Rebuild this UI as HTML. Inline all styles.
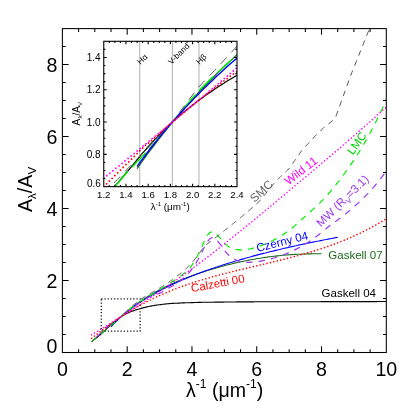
<!DOCTYPE html>
<html><head><meta charset="utf-8"><title>Extinction curves</title>
<style>html,body{margin:0;padding:0;background:#fff}svg{display:block;will-change:transform}text{font-family:"Liberation Sans",sans-serif;fill:#000}</style></head>
<body>
<svg width="415" height="415" viewBox="0 0 415 415">
<rect width="415" height="415" fill="#fff"/>
<clipPath id="cm"><rect x="62.4" y="28.6" width="323.9" height="323.9"/></clipPath>
<g clip-path="url(#cm)" fill="none" stroke-linejoin="round">
<path d="M91.6 341.6L92.5 340.8L93.5 340.1L94.5 339.3L95.5 338.5L96.5 337.8L97.5 337.0L98.5 336.2L99.4 335.3L100.4 334.5L101.4 333.7L102.4 332.8L103.4 331.9L104.4 331.0L105.4 330.0L106.3 329.1L107.3 328.1L108.3 327.2L109.3 326.3L110.3 325.4L111.3 324.5L112.3 323.7L113.2 322.8L114.2 322.0L115.2 321.1L116.2 320.3L117.2 319.5L118.2 318.7L119.2 318.0L120.1 317.3L121.1 316.6L122.1 316.0L123.1 315.4L124.1 314.9L125.1 314.3L126.1 313.8L127.0 313.3L128.0 312.9L129.0 312.4L130.0 312.0L131.0 311.6L132.0 311.2L133.0 310.9L133.9 310.5L134.9 310.2L135.9 309.9L136.9 309.6L137.9 309.2L138.9 309.0L139.9 308.7L140.8 308.4L141.8 308.1L142.8 307.9L143.8 307.6L144.8 307.4L145.8 307.1L146.8 306.9L147.7 306.7L148.7 306.5L149.7 306.3L150.7 306.1L151.7 305.9L152.7 305.7L153.7 305.6L154.6 305.4L155.6 305.3L156.6 305.1L157.6 305.0L158.6 304.8L159.6 304.7L160.6 304.6L161.5 304.5L162.5 304.3L163.5 304.2L164.5 304.1L165.5 304.0L166.5 303.9L167.5 303.8L168.4 303.7L169.4 303.6L170.4 303.5L171.4 303.5L172.4 303.4L173.4 303.4L174.4 303.3L175.3 303.3L176.3 303.2L177.3 303.2L178.3 303.1L179.3 303.1L180.3 303.0L181.3 303.0L182.2 302.9L183.2 302.9L184.2 302.9L185.2 302.8L186.2 302.8L187.2 302.7L188.2 302.7L189.1 302.7L190.1 302.7L191.1 302.6L192.1 302.6L193.1 302.6L194.1 302.5L195.1 302.5L196.0 302.5L197.0 302.5L198.0 302.4L199.0 302.4L200.0 302.4L201.0 302.4L202.0 302.3L202.9 302.3L203.9 302.3L204.9 302.3L205.9 302.3L206.9 302.3L207.9 302.2L208.9 302.2L209.8 302.2L210.8 302.2L211.8 302.2L212.8 302.2L213.8 302.2L214.8 302.1L215.8 302.1L216.7 302.1L217.7 302.1L218.7 302.1L219.7 302.1L220.7 302.1L221.7 302.1L222.7 302.1L223.6 302.1L224.6 302.0L225.6 302.0L226.6 302.0L227.6 302.0L228.6 302.0L229.6 302.0L230.5 302.0L231.5 302.0L232.5 302.0L233.5 302.0L234.5 302.0L235.5 302.0L236.5 301.9L237.4 301.9L238.4 301.9L239.4 301.9L240.4 301.9L241.4 301.9L242.4 301.9L243.4 301.9L244.3 301.9L245.3 301.9L246.3 301.9L247.3 301.9L248.3 301.9L249.3 301.9L250.3 301.9L251.2 301.9L252.2 301.9L253.2 301.9L254.2 301.8L255.2 301.8L256.2 301.8L257.2 301.8L258.1 301.8L259.1 301.8L260.1 301.8L261.1 301.8L262.1 301.8L263.1 301.8L264.1 301.8L265.0 301.8L266.0 301.8L267.0 301.8L268.0 301.8L269.0 301.8L270.0 301.8L271.0 301.8L271.9 301.8L272.9 301.8L273.9 301.8L274.9 301.8L275.9 301.8L276.9 301.8L277.9 301.8L278.8 301.8L279.8 301.8L280.8 301.7L281.8 301.7L282.8 301.7L283.8 301.7L284.8 301.7L285.8 301.7L286.7 301.7L287.7 301.7L288.7 301.7L289.7 301.7L290.7 301.7L291.7 301.7L292.7 301.7L293.6 301.7L294.6 301.7L295.6 301.7L296.6 301.7L297.6 301.7L298.6 301.7L299.6 301.7L300.5 301.7L301.5 301.7L302.5 301.7L303.5 301.7L304.5 301.7L305.5 301.7L306.5 301.7L307.4 301.7L308.4 301.7L309.4 301.7L310.4 301.7L311.4 301.7L312.4 301.7L313.4 301.7L314.3 301.7L315.3 301.7L316.3 301.7L317.3 301.7L318.3 301.7L319.3 301.7L320.3 301.7L321.2 301.6L322.2 301.6L323.2 301.6L324.2 301.6L325.2 301.6L326.2 301.6L327.2 301.6L328.1 301.6L329.1 301.6L330.1 301.6L331.1 301.6L332.1 301.6L333.1 301.6L334.1 301.6L335.0 301.6L336.0 301.6L337.0 301.6L338.0 301.6L339.0 301.6L340.0 301.6L341.0 301.6L341.9 301.6L342.9 301.6L343.9 301.6L344.9 301.6L345.9 301.6L346.9 301.6L347.9 301.6L348.8 301.6L349.8 301.6L350.8 301.6L351.8 301.6L352.8 301.6L353.8 301.6L354.8 301.6L355.7 301.6L356.7 301.6L357.7 301.6L358.7 301.6L359.7 301.6L360.7 301.6L361.7 301.6L362.6 301.6L363.6 301.6L364.6 301.6L365.6 301.6L366.6 301.6L367.6 301.6L368.6 301.6L369.5 301.6L370.5 301.6L371.5 301.6L372.5 301.6L373.5 301.6L374.5 301.6L375.5 301.6L376.4 301.6L377.4 301.5L378.4 301.5L379.4 301.5L380.4 301.5L381.4 301.5L382.4 301.5L383.3 301.5L384.3 301.5L385.3 301.5L386.3 301.5" stroke="#000" stroke-width="1.1"/>
<path d="M111.0 326.9L112.8 325.0L114.5 323.1L116.3 321.3L118.1 319.6L119.8 317.9L121.6 316.3L123.4 314.7L125.1 313.1L126.9 311.6L128.7 310.1L130.4 308.7L132.2 307.3L134.0 306.0L135.8 304.6L137.5 303.3L139.3 302.1L141.1 300.9L142.8 299.7L144.6 298.5L146.4 297.4L148.1 296.3L149.9 295.2L151.7 294.2L153.4 293.2L155.2 292.2L157.0 291.2L158.8 290.2L160.5 289.3L162.3 288.4L164.1 287.5L165.8 286.7L167.6 285.8L169.4 285.0L171.1 284.2L172.9 283.4L174.7 282.6L176.4 281.8L178.2 281.1L180.0 280.3L181.8 279.6L183.5 278.9L185.3 278.2L187.1 277.5L188.8 276.9L190.6 276.2L192.4 275.6L194.1 274.9L195.9 274.3L197.7 273.7L199.4 273.1L201.2 272.5L203.0 271.9L204.8 271.4L206.5 270.8L208.3 270.3L210.1 269.7L211.8 269.2L213.6 268.7L215.4 268.2L217.1 267.7L218.9 267.2L220.7 266.7L222.4 266.2L224.2 265.7L226.0 265.3L227.8 264.8L229.5 264.4L231.3 264.0L233.1 263.5L234.8 263.1L236.6 262.7L238.4 262.3L240.1 261.9L241.9 261.6L243.7 261.2L245.4 260.8L247.2 260.5L249.0 260.1L250.8 259.8L252.5 259.5L254.3 259.2L256.1 258.8L257.8 258.5L259.6 258.3L261.4 258.0L263.1 257.7L264.9 257.4L266.7 257.2L268.4 256.9L270.2 256.7L272.0 256.5L273.8 256.3L275.5 256.1L277.3 255.9L279.1 255.7L280.8 255.5L282.6 255.3L284.4 255.2L286.1 255.0L287.9 254.9L289.7 254.8L291.4 254.6L293.2 254.5L295.0 254.4L296.8 254.3L298.5 254.2L300.3 254.2L302.1 254.1L303.8 254.0L305.6 254.0L307.4 253.9L309.1 253.9L310.9 253.9L312.7 253.8L314.4 253.8L316.2 253.8L318.0 253.8L319.8 253.8L321.5 253.8" stroke="#1a6b1a" stroke-width="1.1"/>
<path d="M111.0 326.4L112.9 324.4L114.8 322.5L116.7 320.7L118.6 318.9L120.5 317.2L122.4 315.5L124.3 313.9L126.2 312.4L128.1 310.9L130.0 309.4L131.9 308.0L133.8 306.6L135.8 305.2L137.7 303.9L139.6 302.6L141.5 301.4L143.4 300.1L145.3 299.0L147.2 297.8L149.1 296.6L151.0 295.5L152.9 294.4L154.8 293.4L156.7 292.3L158.6 291.3L160.5 290.3L162.4 289.3L164.3 288.3L166.2 287.4L168.1 286.4L170.0 285.5L172.0 284.6L173.9 283.7L175.8 282.9L177.7 282.0L179.6 281.2L181.5 280.3L183.4 279.5L185.3 278.7L187.2 277.9L189.1 277.1L191.0 276.4L192.9 275.6L194.8 274.9L196.7 274.1L198.6 273.4L200.5 272.7L202.4 272.0L204.3 271.3L206.2 270.6L208.2 269.9L210.1 269.3L212.0 268.6L213.9 268.0L215.8 267.3L217.7 266.7L219.6 266.1L221.5 265.5L223.4 264.8L225.3 264.2L227.2 263.6L229.1 263.0L231.0 262.5L232.9 261.9L234.8 261.3L236.7 260.7L238.6 260.2L240.5 259.6L242.5 259.1L244.4 258.6L246.3 258.0L248.2 257.5L250.1 257.0L252.0 256.4L253.9 255.9L255.8 255.4L257.7 254.9L259.6 254.4L261.5 253.9L263.4 253.4L265.3 253.0L267.2 252.5L269.1 252.0L271.0 251.5L272.9 251.1L274.8 250.6L276.7 250.1L278.7 249.7L280.6 249.2L282.5 248.8L284.4 248.3L286.3 247.9L288.2 247.5L290.1 247.0L292.0 246.6L293.9 246.2L295.8 245.8L297.7 245.3L299.6 244.9L301.5 244.5L303.4 244.1L305.3 243.7L307.2 243.3L309.1 242.9L311.0 242.5L312.9 242.1L314.9 241.7L316.8 241.3L318.7 241.0L320.6 240.6L322.5 240.2L324.4 239.8L326.3 239.5L328.2 239.1L330.1 238.7L332.0 238.4L333.9 238.0L335.8 237.6L337.7 237.3" stroke="#0000ff" stroke-width="1.1"/>
<path d="M91.6 340.2L92.5 339.6L93.5 338.9L94.5 338.2L95.5 337.4L96.5 336.7L97.5 336.0L98.5 335.2L99.4 334.4L100.4 333.5L101.4 332.5L102.4 331.5L103.4 330.5L104.4 329.5L105.4 328.5L106.3 327.6L107.3 326.7L108.3 325.8L109.3 325.0L110.3 324.2L111.3 323.4L112.3 322.7L113.2 322.0L114.2 321.3L115.2 320.7L116.2 320.0L117.2 319.3L118.2 318.7L119.2 318.0L120.1 317.4L121.1 316.7L122.1 316.0L123.1 315.3L124.1 314.5L125.1 313.8L126.1 313.0L127.0 312.2L128.0 311.4L129.0 310.6L130.0 309.8L131.0 309.0L132.0 308.1L133.0 307.3L133.9 306.5L134.9 305.7L135.9 304.9L136.9 304.1L137.9 303.4L138.9 302.7L139.9 302.0L140.8 301.3L141.8 300.7L142.8 300.1L143.8 299.6L144.8 299.0L145.8 298.6L146.8 298.1L147.7 297.7L148.7 297.3L149.7 297.0L150.7 296.6L151.7 296.3L152.7 296.0L153.7 295.6L154.6 295.3L155.6 295.0L156.6 294.6L157.6 294.2L158.6 293.8L159.6 293.4L160.6 292.9L161.5 292.4L162.5 291.8L163.5 291.2L164.5 290.6L165.5 290.0L166.5 289.3L167.5 288.7L168.4 288.1L169.4 287.6L170.4 287.0L171.4 286.5L172.4 286.0L173.4 285.4L174.4 284.8L175.3 284.2L176.3 283.6L177.3 282.9L178.3 282.3L179.3 281.6L180.3 280.8L181.3 280.1L182.2 279.3L183.2 278.5L184.2 277.6L185.2 276.7L186.2 275.8L187.2 274.8L188.2 273.8L189.1 272.7L190.1 271.5L191.1 270.3L192.1 269.0L193.1 267.6L194.1 266.2L195.1 264.7L196.0 263.1L197.0 261.4L198.0 259.7L199.0 257.8L200.0 256.0L201.0 254.0L202.0 252.1L202.9 250.1L203.9 248.1L204.9 246.2L205.9 244.4L206.9 242.7L207.9 241.2L208.9 239.9L209.8 238.9L210.8 238.1L211.8 237.7L212.8 237.6L213.8 237.8L214.8 238.3L215.8 239.0L216.7 240.0L217.7 241.1L218.7 242.4L219.7 243.7L220.7 245.1L221.7 246.5L222.7 247.9L223.6 249.3L224.6 250.6L225.6 251.8L226.6 252.9L227.6 254.0L228.6 255.0L229.6 255.9L230.5 256.7L231.5 257.5L232.5 258.1L233.5 258.8L234.5 259.3L235.5 259.8L236.5 260.2L237.4 260.6L238.4 260.9L239.4 261.2L240.4 261.4L241.4 261.7L242.4 261.8L243.4 262.0L244.3 262.1L245.3 262.2L246.3 262.2L247.3 262.3L248.3 262.3L249.3 262.3L250.3 262.3L251.2 262.2L252.2 262.2L253.2 262.1L254.2 262.0L255.2 261.9L256.2 261.8L257.2 261.7L258.1 261.6L259.1 261.4L260.1 261.2L261.1 261.1L262.1 260.9L263.1 260.7L264.1 260.5L265.0 260.3L266.0 260.1L267.0 259.9L268.0 259.6L269.0 259.4L270.0 259.1L271.0 258.9L271.9 258.6L272.9 258.3L273.9 258.0L274.9 257.7L275.9 257.4L276.9 257.1L277.9 256.8L278.8 256.5L279.8 256.1L280.8 255.8L281.8 255.4L282.8 255.0L283.8 254.7L284.8 254.3L285.8 253.9L286.7 253.5L287.7 253.1L288.7 252.6L289.7 252.2L290.7 251.8L291.7 251.3L292.7 250.9L293.6 250.4L294.6 249.9L295.6 249.4L296.6 248.9L297.6 248.4L298.6 247.9L299.6 247.4L300.5 246.8L301.5 246.3L302.5 245.7L303.5 245.1L304.5 244.5L305.5 243.9L306.5 243.3L307.4 242.7L308.4 242.1L309.4 241.4L310.4 240.8L311.4 240.1L312.4 239.4L313.4 238.7L314.3 238.0L315.3 237.3L316.3 236.5L317.3 235.8L318.3 235.0L319.3 234.2L320.3 233.4L321.2 232.6L322.2 231.8L323.2 231.0L324.2 230.2L325.2 229.4L326.2 228.6L327.2 227.7L328.1 226.9L329.1 226.2L330.1 225.5L331.1 224.8L332.1 224.1L333.1 223.4L334.1 222.7L335.0 221.9L336.0 221.2L337.0 220.5L338.0 219.7L339.0 219.0L340.0 218.2L341.0 217.5L341.9 216.7L342.9 216.0L343.9 215.2L344.9 214.4L345.9 213.6L346.9 212.8L347.9 212.0L348.8 211.2L349.8 210.4L350.8 209.6L351.8 208.7L352.8 207.9L353.8 207.0L354.8 206.1L355.7 205.3L356.7 204.4L357.7 203.5L358.7 202.6L359.7 201.6L360.7 200.7L361.7 199.7L362.6 198.8L363.6 197.8L364.6 196.8L365.6 195.8L366.6 194.8L367.6 193.8L368.6 192.7L369.5 191.7L370.5 190.6L371.5 189.5L372.5 188.4L373.5 187.3L374.5 186.1L375.5 185.0L376.4 183.8L377.4 182.6L378.4 181.4L379.4 180.2L380.4 179.0L381.4 177.7L382.4 176.4L383.3 175.1L384.3 173.8L385.3 172.5L386.3 171.1" stroke="#9a35f0" stroke-width="1.2" stroke-dasharray="6.5 6" stroke-dashoffset="6.5"/>
<path d="M91.6 341.7L92.5 340.9L93.5 340.1L94.5 339.3L95.5 338.5L96.5 337.7L97.5 336.9L98.5 336.1L99.4 335.2L100.4 334.4L101.4 333.6L102.4 332.7L103.4 331.9L104.4 331.0L105.4 330.2L106.3 329.3L107.3 328.4L108.3 327.5L109.3 326.7L110.3 325.9L111.3 325.2L112.3 324.4L113.2 323.6L114.2 322.8L115.2 321.9L116.2 321.0L117.2 320.2L118.2 319.3L119.2 318.4L120.1 317.5L121.1 316.7L122.1 315.8L123.1 314.9L124.1 314.0L125.1 313.0L126.1 312.1L127.0 311.2L128.0 310.4L129.0 309.6L130.0 308.8L131.0 308.0L132.0 307.3L133.0 306.6L133.9 305.9L134.9 305.2L135.9 304.5L136.9 303.8L137.9 303.1L138.9 302.5L139.9 301.8L140.8 301.1L141.8 300.5L142.8 299.9L143.8 299.2L144.8 298.6L145.8 298.0L146.8 297.4L147.7 296.8L148.7 296.2L149.7 295.6L150.7 295.1L151.7 294.5L152.7 293.9L153.7 293.3L154.6 292.7L155.6 292.1L156.6 291.5L157.6 290.9L158.6 290.3L159.6 289.7L160.6 289.1L161.5 288.5L162.5 287.9L163.5 287.3L164.5 286.7L165.5 286.1L166.5 285.5L167.5 284.8L168.4 284.2L169.4 283.6L170.4 283.0L171.4 282.3L172.4 281.6L173.4 281.0L174.4 280.3L175.3 279.6L176.3 279.0L177.3 278.3L178.3 277.6L179.3 277.0L180.3 276.3L181.3 275.6L182.2 274.8L183.2 274.1L184.2 273.3L185.2 272.5L186.2 271.6L187.2 270.7L188.2 269.8L189.1 268.7L190.1 267.6L191.1 266.3L192.1 264.9L193.1 263.4L194.1 261.9L195.1 260.3L196.0 258.5L197.0 256.7L198.0 254.8L199.0 252.9L200.0 250.8L201.0 248.8L202.0 246.7L202.9 244.6L203.9 242.2L204.9 239.7L205.9 237.5L206.9 235.9L207.9 234.6L208.9 233.5L209.8 232.6L210.8 232.1L211.8 231.7L212.8 231.6L213.8 232.0L214.8 232.8L215.8 233.5L216.7 234.4L217.7 235.4L218.7 236.5L219.7 237.6L220.7 238.8L221.7 240.1L222.7 241.2L223.6 242.3L224.6 243.4L225.6 244.3L226.6 245.1L227.6 245.9L228.6 246.6L229.6 247.2L230.5 247.7L231.5 248.0L232.5 248.4L233.5 248.7L234.5 249.0L235.5 249.2L236.5 249.4L237.4 249.5L238.4 249.6L239.4 249.8L240.4 249.9L241.4 249.9L242.4 249.9L243.4 249.9L244.3 249.8L245.3 249.7L246.3 249.6L247.3 249.4L248.3 249.2L249.3 249.0L250.3 248.9L251.2 248.7L252.2 248.4L253.2 248.1L254.2 247.9L255.2 247.5L256.2 247.2L257.2 246.9L258.1 246.6L259.1 246.3L260.1 245.9L261.1 245.6L262.1 245.2L263.1 244.8L264.1 244.4L265.0 244.0L266.0 243.6L267.0 243.2L268.0 242.8L269.0 242.3L270.0 241.9L271.0 241.4L271.9 240.9L272.9 240.5L273.9 239.9L274.9 239.4L275.9 238.9L276.9 238.3L277.9 237.7L278.8 237.2L279.8 236.6L280.8 235.9L281.8 235.3L282.8 234.7L283.8 234.0L284.8 233.3L285.8 232.7L286.7 232.0L287.7 231.3L288.7 230.6L289.7 229.8L290.7 229.1L291.7 228.3L292.7 227.5L293.6 226.7L294.6 225.9L295.6 225.0L296.6 224.1L297.6 223.3L298.6 222.4L299.6 221.5L300.5 220.6L301.5 219.7L302.5 218.8L303.5 217.9L304.5 217.0L305.5 216.1L306.5 215.2L307.4 214.3L308.4 213.4L309.4 212.6L310.4 211.7L311.4 210.8L312.4 209.9L313.4 209.1L314.3 208.2L315.3 207.3L316.3 206.4L317.3 205.5L318.3 204.5L319.3 203.6L320.3 202.6L321.2 201.6L322.2 200.6L323.2 199.6L324.2 198.5L325.2 197.5L326.2 196.4L327.2 195.2L328.1 194.1L329.1 193.0L330.1 191.8L331.1 190.6L332.1 189.4L333.1 188.2L334.1 187.0L335.0 185.8L336.0 184.6L337.0 183.3L338.0 182.1L339.0 180.8L340.0 179.5L341.0 178.2L341.9 176.9L342.9 175.6L343.9 174.3L344.9 173.0L345.9 171.6L346.9 170.2L347.9 168.9L348.8 167.5L349.8 166.1L350.8 164.6L351.8 163.2L352.8 161.7L353.8 160.3L354.8 158.8L355.7 157.3L356.7 155.7L357.7 154.2L358.7 152.6L359.7 151.0L360.7 149.4L361.7 147.8L362.6 146.1L363.6 144.5L364.6 142.8L365.6 141.1L366.6 139.3L367.6 137.6L368.6 135.8L369.5 134.0L370.5 132.2L371.5 130.3L372.5 128.5L373.5 126.6L374.5 124.7L375.5 122.7L376.4 120.8L377.4 118.8L378.4 116.8L379.4 114.8L380.4 112.6L381.4 110.5L382.4 108.3L383.3 106.0L384.3 103.7L385.3 101.5L386.3 99.1" stroke="#00ee00" stroke-width="1.2" stroke-dasharray="6.3 6"/>
<path d="M91.6 341.7L92.5 340.8L93.5 339.9L94.5 339.0L95.5 338.1L96.5 337.2L97.5 336.3L98.5 335.4L99.4 334.5L100.4 333.6L101.4 332.7L102.4 331.8L103.4 330.9L104.4 330.0L105.4 329.2L106.3 328.4L107.3 327.6L108.3 326.9L109.3 326.1L110.3 325.3L111.3 324.5L112.3 323.7L113.2 322.9L114.2 322.1L115.2 321.4L116.2 320.6L117.2 319.8L118.2 319.0L119.2 318.2L120.1 317.4L121.1 316.6L122.1 315.7L123.1 314.6L124.1 313.6L125.1 312.6L126.1 311.6L127.0 310.6L128.0 309.7L129.0 308.7L130.0 307.9L131.0 307.1L132.0 306.3L133.0 305.5L133.9 304.7L134.9 303.9L135.9 303.1L136.9 302.3L137.9 301.5L138.9 300.7L139.9 299.8L140.8 299.2L141.8 298.6L142.8 298.0L143.8 297.4L144.8 296.8L145.8 296.2L146.8 295.7L147.7 295.1L148.7 294.5L149.7 293.9L150.7 293.3L151.7 292.7L152.7 292.1L153.7 291.5L154.6 291.0L155.6 290.4L156.6 289.8L157.6 289.2L158.6 288.6L159.6 288.0L160.6 287.4L161.5 286.9L162.5 286.3L163.5 285.6L164.5 285.0L165.5 284.3L166.5 283.7L167.5 283.0L168.4 282.4L169.4 281.7L170.4 281.1L171.4 280.4L172.4 279.8L173.4 279.1L174.4 278.3L175.3 277.5L176.3 276.7L177.3 275.9L178.3 275.1L179.3 274.3L180.3 273.6L181.3 272.8L182.2 272.0L183.2 271.2L184.2 270.4L185.2 269.6L186.2 268.6L187.2 267.6L188.2 266.5L189.1 265.5L190.1 264.4L191.1 263.4L192.1 262.3L193.1 261.3L194.1 260.1L195.1 258.8L196.0 257.5L197.0 256.2L198.0 254.9L199.0 253.6L200.0 252.3L201.0 251.0L202.0 249.6L202.9 248.3L203.9 246.9L204.9 245.7L205.9 245.0L206.9 244.2L207.9 243.5L208.9 242.7L209.8 242.0L210.8 241.2L211.8 240.5L212.8 239.7L213.8 239.0L214.8 238.2L215.8 237.5L216.7 236.7L217.7 236.0L218.7 235.2L219.7 234.4L220.7 233.6L221.7 232.8L222.7 232.0L223.6 231.2L224.6 230.4L225.6 229.6L226.6 228.8L227.6 228.1L228.6 227.3L229.6 226.5L230.5 225.7L231.5 224.9L232.5 224.1L233.5 223.3L234.5 222.5L235.5 221.7L236.5 221.0L237.4 220.2L238.4 219.4L239.4 218.6L240.4 217.7L241.4 216.9L242.4 216.1L243.4 215.3L244.3 214.4L245.3 213.6L246.3 212.8L247.3 211.9L248.3 211.1L249.3 210.3L250.3 209.4L251.2 208.6L252.2 207.7L253.2 206.9L254.2 206.0L255.2 205.1L256.2 204.2L257.2 203.3L258.1 202.5L259.1 201.6L260.1 200.4L261.1 199.2L262.1 198.0L263.1 196.8L264.1 195.6L265.0 194.4L266.0 193.2L267.0 192.0L268.0 190.8L269.0 189.6L270.0 188.4L271.0 187.2L271.9 186.0L272.9 184.8L273.9 183.6L274.9 182.4L275.9 181.2L276.9 180.1L277.9 179.2L278.8 178.3L279.8 177.4L280.8 176.4L281.8 175.5L282.8 174.6L283.8 173.7L284.8 172.7L285.8 171.8L286.7 170.9L287.7 170.0L288.7 169.0L289.7 167.7L290.7 166.3L291.7 164.9L292.7 163.5L293.6 162.1L294.6 160.7L295.6 159.3L296.6 157.9L297.6 156.5L298.6 155.1L299.6 153.7L300.5 152.2L301.5 150.9L302.5 149.8L303.5 148.7L304.5 147.7L305.5 146.6L306.5 145.5L307.4 144.4L308.4 143.4L309.4 142.3L310.4 141.2L311.4 140.2L312.4 139.1L313.4 138.0L314.3 136.9L315.3 135.9L316.3 134.8L317.3 133.9L318.3 133.0L319.3 132.0L320.3 131.1L321.2 130.2L322.2 129.3L323.2 128.4L324.2 127.4L325.2 126.6L326.2 125.8L327.2 125.0L328.1 124.2L329.1 123.4L330.1 122.6L331.1 121.8L332.1 121.0L333.1 120.2L334.1 119.4L335.0 118.6L336.0 116.1L337.0 113.3L338.0 110.6L339.0 107.9L340.0 105.1L341.0 102.4L341.9 99.6L342.9 96.9L343.9 94.2L344.9 91.4L345.9 88.7L346.9 85.9L347.9 83.2L348.8 80.5L349.8 77.7L350.8 75.2L351.8 72.7L352.8 70.3L353.8 67.8L354.8 65.4L355.7 62.9L356.7 60.4L357.7 58.0L358.7 55.5L359.7 53.0L360.7 50.6L361.7 48.1L362.6 45.6L363.6 43.2L364.6 40.7L365.6 38.2L366.6 35.8L367.6 33.3L368.6 30.9L369.5 28.4L370.5 25.9L371.5 23.3L372.5 20.8L373.5 18.3L374.5 15.7L375.5 13.2L376.4 10.7L377.4 8.2L378.4 5.6L379.4 3.1L380.4 0.6L381.4 -1.9L382.4 -4.5L383.3 -7.0L384.3 -9.5L385.3 -12.1L386.3 -14.6" stroke="#555" stroke-width="1.0" stroke-dasharray="5.8 5"/>
<path d="M91.6 338.3L92.5 337.5L93.5 336.8L94.5 336.0L95.5 335.3L96.5 334.5L97.5 333.8L98.5 333.0L99.4 332.3L100.4 331.5L101.4 330.8L102.4 330.0L103.4 329.3L104.4 328.6L105.4 327.8L106.3 327.1L107.3 326.3L108.3 325.6L109.3 324.8L110.3 324.1L111.3 323.3L112.3 322.6L113.2 321.8L114.2 321.3L115.2 320.6L116.2 319.9L117.2 319.3L118.2 318.6L119.2 317.9L120.1 317.3L121.1 316.6L122.1 316.0L123.1 315.4L124.1 314.7L125.1 314.1L126.1 313.5L127.0 312.9L128.0 312.3L129.0 311.7L130.0 311.1L131.0 310.5L132.0 309.9L133.0 309.3L133.9 308.7L134.9 308.2L135.9 307.6L136.9 307.0L137.9 306.5L138.9 305.9L139.9 305.4L140.8 304.9L141.8 304.3L142.8 303.8L143.8 303.3L144.8 302.8L145.8 302.2L146.8 301.7L147.7 301.2L148.7 300.7L149.7 300.2L150.7 299.8L151.7 299.3L152.7 298.8L153.7 298.3L154.6 297.9L155.6 297.4L156.6 296.9L157.6 296.5L158.6 296.0L159.6 295.6L160.6 295.1L161.5 294.7L162.5 294.3L163.5 293.8L164.5 293.4L165.5 293.0L166.5 292.6L167.5 292.2L168.4 291.7L169.4 291.3L170.4 290.9L171.4 290.5L172.4 290.1L173.4 289.8L174.4 289.4L175.3 289.0L176.3 288.6L177.3 288.2L178.3 287.9L179.3 287.5L180.3 287.1L181.3 286.8L182.2 286.4L183.2 286.1L184.2 285.7L185.2 285.4L186.2 285.0L187.2 284.7L188.2 284.3L189.1 284.0L190.1 283.7L191.1 283.3L192.1 283.0L193.1 282.7L194.1 282.4L195.1 282.0L196.0 281.7L197.0 281.4L198.0 281.1L199.0 280.8L200.0 280.5L201.0 280.2L202.0 279.9L202.9 279.6L203.9 279.3L204.9 279.0L205.9 278.7L206.9 278.4L207.9 278.1L208.9 277.9L209.8 277.6L210.8 277.3L211.8 277.0L212.8 276.7L213.8 276.5L214.8 276.2L215.8 275.9L216.7 275.7L217.7 275.4L218.7 275.1L219.7 274.9L220.7 274.6L221.7 274.3L222.7 274.1L223.6 273.8L224.6 273.6L225.6 273.3L226.6 273.1L227.6 272.8L228.6 272.6L229.6 272.3L230.5 272.1L231.5 271.8L232.5 271.6L233.5 271.3L234.5 271.1L235.5 270.9L236.5 270.6L237.4 270.4L238.4 270.1L239.4 269.9L240.4 269.7L241.4 269.4L242.4 269.2L243.4 269.0L244.3 268.7L245.3 268.5L246.3 268.3L247.3 268.0L248.3 267.8L249.3 267.6L250.3 267.3L251.2 267.1L252.2 266.9L253.2 266.6L254.2 266.4L255.2 266.2L256.2 265.9L257.2 265.7L258.1 265.5L259.1 265.2L260.1 265.0L261.1 264.8L262.1 264.6L263.1 264.3L264.1 264.1L265.0 263.9L266.0 263.6L267.0 263.4L268.0 263.2L269.0 262.9L270.0 262.7L271.0 262.5L271.9 262.2L272.9 262.0L273.9 261.7L274.9 261.5L275.9 261.3L276.9 261.0L277.9 260.8L278.8 260.5L279.8 260.3L280.8 260.1L281.8 259.8L282.8 259.6L283.8 259.3L284.8 259.1L285.8 258.8L286.7 258.6L287.7 258.3L288.7 258.1L289.7 257.8L290.7 257.6L291.7 257.3L292.7 257.0L293.6 256.8L294.6 256.5L295.6 256.3L296.6 256.0L297.6 255.7L298.6 255.5L299.6 255.2L300.5 254.9L301.5 254.6L302.5 254.4L303.5 254.1L304.5 253.8L305.5 253.5L306.5 253.2L307.4 252.9L308.4 252.6L309.4 252.4L310.4 252.1L311.4 251.8L312.4 251.5L313.4 251.2L314.3 250.9L315.3 250.5L316.3 250.2L317.3 249.9L318.3 249.6L319.3 249.3L320.3 249.0L321.2 248.6L322.2 248.3L323.2 248.0L324.2 247.7L325.2 247.3L326.2 247.0L327.2 246.6L328.1 246.3L329.1 246.0L330.1 245.6L331.1 245.2L332.1 244.9L333.1 244.5L334.1 244.2L335.0 243.8L336.0 243.4L337.0 243.1L338.0 242.7L339.0 242.3L340.0 241.9L341.0 241.5L341.9 241.1L342.9 240.7L343.9 240.3L344.9 239.9L345.9 239.5L346.9 239.1L347.9 238.7L348.8 238.3L349.8 237.8L350.8 237.4L351.8 237.0L352.8 236.5L353.8 236.1L354.8 235.7L355.7 235.2L356.7 234.7L357.7 234.3L358.7 233.8L359.7 233.4L360.7 232.9L361.7 232.4L362.6 231.9L363.6 231.4L364.6 230.9L365.6 230.4L366.6 229.9L367.6 229.4L368.6 228.9L369.5 228.4L370.5 227.9L371.5 227.4L372.5 226.8L373.5 226.3L374.5 225.8L375.5 225.2L376.4 224.7L377.4 224.1L378.4 223.5L379.4 223.0L380.4 222.4L381.4 221.8L382.4 221.2L383.3 220.6L384.3 220.0L385.3 219.4L386.3 218.8" stroke="#ff0000" stroke-width="1.6" stroke-dasharray="0.01 3.5" stroke-linecap="round"/>
<path d="M91.6 334.9L92.5 334.3L93.5 333.7L94.5 333.1L95.5 332.5L96.5 331.9L97.5 331.3L98.5 330.7L99.4 330.1L100.4 329.5L101.4 328.9L102.4 328.3L103.4 327.7L104.4 327.1L105.4 326.5L106.3 325.9L107.3 325.3L108.3 324.7L109.3 324.0L110.3 323.4L111.3 322.8L112.3 322.2L113.2 321.6L114.2 321.0L115.2 320.3L116.2 319.7L117.2 319.1L118.2 318.5L119.2 317.9L120.1 317.2L121.1 316.6L122.1 316.0L123.1 315.4L124.1 314.7L125.1 314.1L126.1 313.5L127.0 312.9L128.0 312.2L129.0 311.6L130.0 311.0L131.0 310.3L132.0 309.7L133.0 309.1L133.9 308.4L134.9 307.8L135.9 307.2L136.9 306.5L137.9 305.9L138.9 305.2L139.9 304.6L140.8 304.0L141.8 303.3L142.8 302.7L143.8 302.0L144.8 301.4L145.8 300.7L146.8 300.1L147.7 299.4L148.7 298.8L149.7 298.1L150.7 297.5L151.7 296.8L152.7 296.2L153.7 295.5L154.6 294.8L155.6 294.2L156.6 293.5L157.6 292.9L158.6 292.2L159.6 291.5L160.6 290.9L161.5 290.2L162.5 289.5L163.5 288.8L164.5 288.2L165.5 287.5L166.5 286.8L167.5 286.1L168.4 285.5L169.4 284.8L170.4 284.1L171.4 283.4L172.4 282.7L173.4 282.0L174.4 281.3L175.3 280.7L176.3 280.0L177.3 279.3L178.3 278.6L179.3 277.9L180.3 277.2L181.3 276.5L182.2 275.8L183.2 275.1L184.2 274.4L185.2 273.7L186.2 273.0L187.2 272.2L188.2 271.5L189.1 270.8L190.1 270.1L191.1 269.4L192.1 268.7L193.1 267.9L194.1 267.2L195.1 266.5L196.0 265.8L197.0 265.0L198.0 264.3L199.0 263.6L200.0 262.8L201.0 262.1L202.0 261.3L202.9 260.6L203.9 259.9L204.9 259.1L205.9 258.4L206.9 257.6L207.9 256.8L208.9 256.1L209.8 255.3L210.8 254.6L211.8 253.8L212.8 253.0L213.8 252.3L214.8 251.5L215.8 250.7L216.7 249.9L217.7 249.2L218.7 248.4L219.7 247.6L220.7 246.8L221.7 246.0L222.7 245.3L223.6 244.5L224.6 243.7L225.6 242.9L226.6 242.1L227.6 241.3L228.6 240.5L229.6 239.7L230.5 238.9L231.5 238.1L232.5 237.3L233.5 236.5L234.5 235.8L235.5 235.0L236.5 234.2L237.4 233.4L238.4 232.6L239.4 231.8L240.4 231.0L241.4 230.2L242.4 229.4L243.4 228.6L244.3 227.8L245.3 227.0L246.3 226.2L247.3 225.4L248.3 224.6L249.3 223.8L250.3 223.0L251.2 222.2L252.2 221.4L253.2 220.6L254.2 219.8L255.2 219.0L256.2 218.2L257.2 217.4L258.1 216.5L259.1 215.7L260.1 214.9L261.1 214.1L262.1 213.3L263.1 212.5L264.1 211.7L265.0 210.8L266.0 210.0L267.0 209.2L268.0 208.4L269.0 207.6L270.0 206.7L271.0 205.9L271.9 205.1L272.9 204.3L273.9 203.5L274.9 202.6L275.9 201.8L276.9 201.0L277.9 200.2L278.8 199.3L279.8 198.5L280.8 197.7L281.8 196.9L282.8 196.0L283.8 195.2L284.8 194.4L285.8 193.6L286.7 192.7L287.7 191.9L288.7 191.1L289.7 190.2L290.7 189.4L291.7 188.6L292.7 187.8L293.6 186.9L294.6 186.1L295.6 185.3L296.6 184.5L297.6 183.6L298.6 182.8L299.6 182.0L300.5 181.2L301.5 180.3L302.5 179.5L303.5 178.7L304.5 177.9L305.5 177.0L306.5 176.2L307.4 175.4L308.4 174.6L309.4 173.7L310.4 172.9L311.4 172.1L312.4 171.3L313.4 170.4L314.3 169.6L315.3 168.8L316.3 168.0L317.3 167.1L318.3 166.3L319.3 165.5L320.3 164.6L321.2 163.8L322.2 163.0L323.2 162.1L324.2 161.3L325.2 160.5L326.2 159.6L327.2 158.8L328.1 158.0L329.1 157.1L330.1 156.3L331.1 155.5L332.1 154.6L333.1 153.8L334.1 153.0L335.0 152.1L336.0 151.3L337.0 150.4L338.0 149.6L339.0 148.7L340.0 147.9L341.0 147.0L341.9 146.2L342.9 145.3L343.9 144.5L344.9 143.6L345.9 142.8L346.9 141.9L347.9 141.1L348.8 140.2L349.8 139.4L350.8 138.5L351.8 137.6L352.8 136.8L353.8 135.9L354.8 135.1L355.7 134.2L356.7 133.3L357.7 132.5L358.7 131.6L359.7 130.7L360.7 129.9L361.7 129.0L362.6 128.1L363.6 127.3L364.6 126.4L365.6 125.5L366.6 124.7L367.6 123.8L368.6 122.9L369.5 122.1L370.5 121.2L371.5 120.3L372.5 119.4L373.5 118.6L374.5 117.7L375.5 116.8L376.4 115.9L377.4 115.1L378.4 114.2L379.4 113.3L380.4 112.4L381.4 111.5L382.4 110.6L383.3 109.8L384.3 108.9L385.3 108.0L386.3 107.1" stroke="#ff00ff" stroke-width="1.6" stroke-dasharray="0.01 3.5" stroke-linecap="round"/>
</g>
<rect x="101.27" y="298.82" width="38.87" height="32.39" fill="none" stroke="#111" stroke-width="1.25" stroke-dasharray="1.25 1.95"/>
<g stroke="#000" stroke-width="1.05" fill="none" stroke-linecap="butt">
<rect x="62.4" y="28.6" width="323.90" height="323.90"/>
<path d="M78.59 352.5v-3.3M78.59 28.6v3.3M94.79 352.5v-3.3M94.79 28.6v3.3M110.98 352.5v-3.3M110.98 28.6v3.3M127.18 352.5v-6.2M127.18 28.6v6.2M143.38 352.5v-3.3M143.38 28.6v3.3M159.57 352.5v-3.3M159.57 28.6v3.3M175.77 352.5v-3.3M175.77 28.6v3.3M191.96 352.5v-6.2M191.96 28.6v6.2M208.16 352.5v-3.3M208.16 28.6v3.3M224.35 352.5v-3.3M224.35 28.6v3.3M240.55 352.5v-3.3M240.55 28.6v3.3M256.74 352.5v-6.2M256.74 28.6v6.2M272.94 352.5v-3.3M272.94 28.6v3.3M289.13 352.5v-3.3M289.13 28.6v3.3M305.33 352.5v-3.3M305.33 28.6v3.3M321.52 352.5v-6.2M321.52 28.6v6.2M337.71 352.5v-3.3M337.71 28.6v3.3M353.91 352.5v-3.3M353.91 28.6v3.3M370.11 352.5v-3.3M370.11 28.6v3.3M62.4 334.51h3.3M386.3 334.51h-3.3M62.4 316.51h3.3M386.3 316.51h-3.3M62.4 298.52h3.3M386.3 298.52h-3.3M62.4 280.52h6.2M386.3 280.52h-6.2M62.4 262.53h3.3M386.3 262.53h-3.3M62.4 244.53h3.3M386.3 244.53h-3.3M62.4 226.54h3.3M386.3 226.54h-3.3M62.4 208.54h6.2M386.3 208.54h-6.2M62.4 190.55h3.3M386.3 190.55h-3.3M62.4 172.56h3.3M386.3 172.56h-3.3M62.4 154.56h3.3M386.3 154.56h-3.3M62.4 136.57h6.2M386.3 136.57h-6.2M62.4 118.57h3.3M386.3 118.57h-3.3M62.4 100.58h3.3M386.3 100.58h-3.3M62.4 82.58h3.3M386.3 82.58h-3.3M62.4 64.59h6.2M386.3 64.59h-6.2M62.4 46.59h3.3M386.3 46.59h-3.3"/>
</g>
<g font-size="19.6px">
<text x="62.40" y="376.4" text-anchor="middle">0</text>
<text x="127.18" y="376.4" text-anchor="middle">2</text>
<text x="191.96" y="376.4" text-anchor="middle">4</text>
<text x="256.74" y="376.4" text-anchor="middle">6</text>
<text x="321.52" y="376.4" text-anchor="middle">8</text>
<text x="386.30" y="376.4" text-anchor="middle">10</text>
<text x="57.4" y="287.52" text-anchor="end">2</text>
<text x="57.4" y="215.54" text-anchor="end">4</text>
<text x="57.4" y="143.57" text-anchor="end">6</text>
<text x="57.4" y="71.59" text-anchor="end">8</text>
<text x="57.4" y="352.8" text-anchor="end">0</text>
</g>
<text x="186" y="397.4" font-size="19.6px">λ<tspan font-size="12px" dy="-9.2">-1</tspan><tspan dy="9.2"> (μm</tspan><tspan font-size="12px" dy="-9.2">-1</tspan><tspan dy="9.2">)</tspan></text>
<text transform="translate(31.5 212) rotate(-90)" font-size="19.6px">A<tspan font-size="11.6px" dy="4">λ</tspan><tspan dy="-4">/A</tspan><tspan font-size="11.6px" dy="4">V</tspan></text>
<rect x="103.75" y="41.3" width="133.25" height="145.35000000000002" fill="#fff"/>
<clipPath id="ci"><rect x="103.75" y="41.3" width="133.25" height="145.35000000000002"/></clipPath>
<path d="M139.69 41.3V186.65" stroke="#bdbdbd" stroke-width="1.2"/>
<path d="M172.39 41.3V186.65" stroke="#bdbdbd" stroke-width="1.2"/>
<path d="M198.93 41.3V186.65" stroke="#bdbdbd" stroke-width="1.2"/>
<g clip-path="url(#ci)" fill="none" stroke-linejoin="round">
<path d="M103.8 199.6L106.0 196.8L108.3 194.1L110.5 191.3L112.8 188.6L115.0 185.9L117.3 183.3L119.6 180.6L121.8 178.0L124.1 175.4L126.3 172.7L128.6 170.1L130.9 167.4L133.1 164.7L135.4 161.9L137.6 159.2L139.9 156.4L142.1 153.7L144.4 151.1L146.7 148.5L148.9 146.0L151.2 143.5L153.4 141.1L155.7 138.6L158.0 136.3L160.2 133.9L162.5 131.6L164.7 129.3L167.0 127.1L169.2 125.0L171.5 122.8L173.8 120.8L176.0 118.8L178.3 116.8L180.5 114.8L182.8 112.9L185.1 111.0L187.3 109.2L189.6 107.4L191.8 105.6L194.1 103.9L196.3 102.1L198.6 100.5L200.9 98.8L203.1 97.2L205.4 95.6L207.6 94.0L209.9 92.4L212.2 90.9L214.4 89.3L216.7 87.8L218.9 86.3L221.2 84.9L223.4 83.4L225.7 82.0L228.0 80.6L230.2 79.3L232.5 77.9L234.7 76.6L237.0 75.4" stroke="#000" stroke-width="1.2"/>
<path d="M137.1 168.6L140.5 163.7L144.0 158.9L147.4 154.2L150.8 149.6L154.3 145.0L157.7 140.5L161.2 136.1L164.6 131.8L168.1 127.5L171.5 123.3L175.0 119.1L178.4 115.1L181.9 111.1L185.3 107.1L188.8 103.2L192.2 99.4L195.6 95.6L199.1 91.9L202.5 88.3L206.0 84.7L209.4 81.2L212.9 77.7L216.3 74.3L219.8 70.9L223.2 67.6L226.7 64.3L230.1 61.1L233.6 57.9L237.0 54.7" stroke="#1a6b1a" stroke-width="1.25"/>
<path d="M103.8 199.1L106.0 196.6L108.3 194.1L110.5 191.5L112.8 189.0L115.0 186.4L117.3 183.8L119.6 181.2L121.8 178.5L124.1 175.8L126.3 173.2L128.6 170.7L130.9 168.2L133.1 165.9L135.4 163.6L137.6 161.3L139.9 159.0L142.1 156.6L144.4 154.2L146.7 151.7L148.9 149.2L151.2 146.7L153.4 144.1L155.7 141.5L158.0 138.9L160.2 136.3L162.5 133.6L164.7 131.0L167.0 128.3L169.2 125.7L171.5 123.1L173.8 120.4L176.0 117.7L178.3 115.0L180.5 112.3L182.8 109.5L185.1 106.8L187.3 104.1L189.6 101.4L191.8 98.7L194.1 96.2L196.3 93.6L198.6 91.2L200.9 88.8L203.1 86.5L205.4 84.3L207.6 82.0L209.9 79.8L212.2 77.6L214.4 75.5L216.7 73.4L218.9 71.3L221.2 69.2L223.4 67.2L225.7 65.1L228.0 63.1L230.2 61.1L232.5 59.1L234.7 57.2L237.0 55.2" stroke="#00ee00" stroke-width="1.4" stroke-dasharray="20 5.5" stroke-dashoffset="8.55"/>
<path d="M103.8 195.4L106.0 192.7L108.3 190.0L110.5 187.3L112.8 184.6L115.0 181.9L117.3 179.6L119.6 177.2L121.8 174.8L124.1 172.5L126.3 170.1L128.6 167.7L130.9 165.4L133.1 163.0L135.4 160.6L137.6 158.3L139.9 155.9L142.1 153.6L144.4 151.2L146.7 148.9L148.9 146.5L151.2 144.2L153.4 141.8L155.7 139.4L158.0 137.1L160.2 134.7L162.5 132.4L164.7 130.0L167.0 127.7L169.2 125.3L171.5 123.0L173.8 120.2L176.0 117.1L178.3 114.0L180.5 111.0L182.8 107.9L185.1 104.8L187.3 101.8L189.6 98.9L191.8 96.0L194.1 93.1L196.3 90.2L198.6 87.2L200.9 84.8L203.1 82.4L205.4 80.0L207.6 77.7L209.9 75.3L212.2 72.9L214.4 70.5L216.7 68.1L218.9 65.8L221.2 63.4L223.4 60.9L225.7 58.4L228.0 56.0L230.2 53.5L232.5 51.1L234.7 48.6L237.0 46.1" stroke="#555" stroke-width="1.0" stroke-dasharray="9 7"/>
<path d="M137.1 166.4L140.5 161.7L144.0 157.0L147.4 152.5L150.8 148.0L154.3 143.7L157.7 139.4L161.2 135.2L164.6 131.1L168.1 127.0L171.5 123.0L175.0 119.1L178.4 115.3L181.9 111.5L185.3 107.7L188.8 104.1L192.2 100.5L195.6 96.9L199.1 93.4L202.5 89.9L206.0 86.5L209.4 83.2L212.9 79.9L216.3 76.6L219.8 73.4L223.2 70.3L226.7 67.1L230.1 64.1L233.6 61.0L237.0 58.0" stroke="#0000ff" stroke-width="1.35"/>
<path d="M103.8 186.6L106.0 184.4L108.3 182.1L110.5 179.9L112.8 177.7L115.0 175.4L117.3 173.2L119.6 170.9L121.8 168.7L124.1 166.4L126.3 164.2L128.6 162.0L130.9 159.7L133.1 157.5L135.4 155.2L137.6 153.0L139.9 150.7L142.1 148.5L144.4 146.3L146.7 144.0L148.9 142.9L151.2 140.9L153.4 138.8L155.7 136.8L158.0 134.8L160.2 132.8L162.5 130.8L164.7 128.8L167.0 126.8L169.2 124.8L171.5 122.9L173.8 121.0L176.0 119.0L178.3 117.1L180.5 115.2L182.8 113.3L185.1 111.5L187.3 109.6L189.6 107.7L191.8 105.9L194.1 104.1L196.3 102.3L198.6 100.5L200.9 98.7L203.1 96.9L205.4 95.1L207.6 93.3L209.9 91.6L212.2 89.9L214.4 88.1L216.7 86.4L218.9 84.7L221.2 83.0L223.4 81.3L225.7 79.7L228.0 78.0L230.2 76.3L232.5 74.7L234.7 73.1L237.0 71.5" stroke="#ff0000" stroke-width="1.8" stroke-dasharray="0.01 3.9" stroke-linecap="round"/>
<path d="M103.8 178.2L106.0 176.4L108.3 174.5L110.5 172.7L112.8 170.9L115.0 169.0L117.3 167.2L119.6 165.4L121.8 163.5L124.1 161.7L126.3 159.9L128.6 158.0L130.9 156.2L133.1 154.3L135.4 152.5L137.6 150.6L139.9 148.8L142.1 146.9L144.4 145.1L146.7 143.2L148.9 141.4L151.2 139.5L153.4 137.7L155.7 135.8L158.0 134.0L160.2 132.1L162.5 130.2L164.7 128.4L167.0 126.5L169.2 124.6L171.5 122.8L173.8 120.9L176.0 119.0L178.3 117.2L180.5 115.3L182.8 113.4L185.1 111.5L187.3 109.6L189.6 107.8L191.8 105.9L194.1 104.0L196.3 102.1L198.6 100.2L200.9 98.3L203.1 96.4L205.4 94.5L207.6 92.6L209.9 90.7L212.2 88.8L214.4 86.9L216.7 85.0L218.9 83.1L221.2 81.2L223.4 79.3L225.7 77.4L228.0 75.5L230.2 73.6L232.5 71.6L234.7 69.7L237.0 67.8" stroke="#ff00ff" stroke-width="1.8" stroke-dasharray="0.01 3.9" stroke-linecap="round"/>
</g>
<g stroke="#000" stroke-width="1.1" fill="none">
<rect x="103.75" y="41.3" width="133.25" height="145.35000000000002"/>
<path d="M109.30 186.65v-1.6M109.30 41.3v1.6M114.85 186.65v-1.6M114.85 41.3v1.6M120.41 186.65v-1.6M120.41 41.3v1.6M125.96 186.65v-3.0M125.96 41.3v3.0M131.51 186.65v-1.6M131.51 41.3v1.6M137.06 186.65v-1.6M137.06 41.3v1.6M142.61 186.65v-1.6M142.61 41.3v1.6M148.17 186.65v-3.0M148.17 41.3v3.0M153.72 186.65v-1.6M153.72 41.3v1.6M159.27 186.65v-1.6M159.27 41.3v1.6M164.82 186.65v-1.6M164.82 41.3v1.6M170.38 186.65v-3.0M170.38 41.3v3.0M175.93 186.65v-1.6M175.93 41.3v1.6M181.48 186.65v-1.6M181.48 41.3v1.6M187.03 186.65v-1.6M187.03 41.3v1.6M192.58 186.65v-3.0M192.58 41.3v3.0M198.14 186.65v-1.6M198.14 41.3v1.6M203.69 186.65v-1.6M203.69 41.3v1.6M209.24 186.65v-1.6M209.24 41.3v1.6M214.79 186.65v-3.0M214.79 41.3v3.0M220.34 186.65v-1.6M220.34 41.3v1.6M225.90 186.65v-1.6M225.90 41.3v1.6M231.45 186.65v-1.6M231.45 41.3v1.6M103.75 178.57h1.6M237.0 178.57h-1.6M103.75 170.50h1.6M237.0 170.50h-1.6M103.75 162.43h1.6M237.0 162.43h-1.6M103.75 154.35h3.0M237.0 154.35h-3.0M103.75 146.28h1.6M237.0 146.28h-1.6M103.75 138.20h1.6M237.0 138.20h-1.6M103.75 130.12h1.6M237.0 130.12h-1.6M103.75 122.05h3.0M237.0 122.05h-3.0M103.75 113.97h1.6M237.0 113.97h-1.6M103.75 105.90h1.6M237.0 105.90h-1.6M103.75 97.83h1.6M237.0 97.83h-1.6M103.75 89.75h3.0M237.0 89.75h-3.0M103.75 81.67h1.6M237.0 81.67h-1.6M103.75 73.60h1.6M237.0 73.60h-1.6M103.75 65.52h1.6M237.0 65.52h-1.6M103.75 57.45h3.0M237.0 57.45h-3.0M103.75 49.37h1.6M237.0 49.37h-1.6"/>
</g>
<g font-size="10px">
<text x="103.75" y="197.6" text-anchor="middle" font-size="9.6px">1.2</text>
<text x="125.96" y="197.6" text-anchor="middle" font-size="9.6px">1.4</text>
<text x="148.17" y="197.6" text-anchor="middle" font-size="9.6px">1.6</text>
<text x="170.38" y="197.6" text-anchor="middle" font-size="9.6px">1.8</text>
<text x="192.58" y="197.6" text-anchor="middle" font-size="9.6px">2.0</text>
<text x="214.79" y="197.6" text-anchor="middle" font-size="9.6px">2.2</text>
<text x="237.00" y="197.6" text-anchor="middle" font-size="9.6px">2.4</text>
<text x="100.6" y="157.95" text-anchor="end">0.8</text>
<text x="100.6" y="125.65" text-anchor="end">1.0</text>
<text x="100.6" y="93.35" text-anchor="end">1.2</text>
<text x="100.6" y="61.05" text-anchor="end">1.4</text>
<text x="100.9" y="186.6" text-anchor="end">0.6</text>
</g>
<text x="150.8" y="209.7" font-size="9.9px">λ<tspan font-size="6px" dy="-3.6">-1</tspan><tspan dy="3.6"> (μm</tspan><tspan font-size="6px" dy="-3.6">-1</tspan><tspan dy="3.6">)</tspan></text>
<text transform="translate(79.6 125.4) rotate(-90)" font-size="10.2px">A<tspan font-size="6px" dy="2.2">λ</tspan><tspan dy="-2.2">/A</tspan><tspan font-size="6px" dy="2.2">V</tspan></text>
<text transform="translate(140.5 65) rotate(-45)" font-size="8.2px">Hα</text>
<text transform="translate(171.5 65) rotate(-45)" font-size="8.2px">V-band</text>
<text transform="translate(199.5 65) rotate(-45)" font-size="8.2px">Hβ</text>
<text transform="translate(254.5 203) rotate(-43)" font-size="11.8px" style="fill:#666">SMC</text>
<text transform="translate(288.5 185.5) rotate(-38)" font-size="11.6px" style="fill:#ff00ff">Wild 11</text>
<text transform="translate(353 155.5) rotate(-55)" font-size="11.6px" style="fill:#00d000">LMC</text>
<text transform="translate(321 227.5) rotate(-44.5)" font-size="11.6px" style="fill:#9a35f0">MW (R<tspan font-size="7.6px" dy="3">V</tspan><tspan dy="-3">=3.1)</tspan></text>
<text transform="translate(257.5 252) rotate(-14)" font-size="11.6px" style="fill:#0000ff">Czerny 04</text>
<text transform="translate(328.3 259.4) rotate(0)" font-size="11.5px" style="fill:#1a6b1a">Gaskell 07</text>
<text transform="translate(191.8 292.3) rotate(-10.8)" font-size="11.5px" style="fill:#ff0000">Calzetti 00</text>
<text transform="translate(321.6 296.9) rotate(0)" font-size="11.5px" style="fill:#000">Gaskell 04</text>
</svg>
</body></html>
